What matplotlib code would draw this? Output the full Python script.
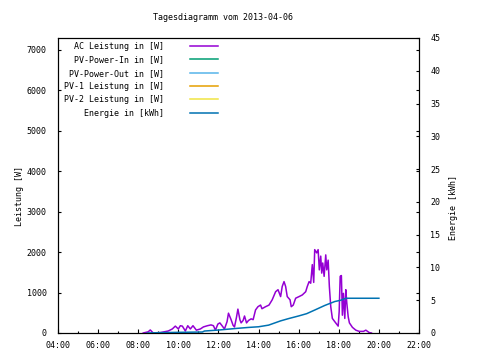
import matplotlib
matplotlib.use("Agg")
import matplotlib.pyplot as plt
from matplotlib.lines import Line2D

# AC power readings (hour of day, watts)
ac_hours = [8.25, 8.5, 8.6, 8.75, 9.1, 9.5, 9.7, 9.85, 10.0, 10.1, 10.2, 10.35,
            10.47, 10.6, 10.73, 10.9, 11.1, 11.25, 11.45, 11.63, 11.75, 11.85,
            11.97, 12.07, 12.18, 12.3, 12.43, 12.5, 12.63, 12.73, 12.8, 12.9,
            12.97, 13.07, 13.13, 13.23, 13.3, 13.4, 13.5, 13.63, 13.73, 13.85,
            13.97, 14.1, 14.17, 14.35, 14.52, 14.68, 14.85, 14.97, 15.1, 15.18,
            15.27, 15.35, 15.43, 15.57, 15.63, 15.73, 15.85, 16.02, 16.18, 16.35,
            16.43, 16.52, 16.6, 16.68, 16.75, 16.8, 16.9, 16.97, 17.03, 17.1,
            17.15, 17.2, 17.27, 17.35, 17.4, 17.47, 17.53, 17.6, 17.68, 17.8,
            17.97, 18.02, 18.07, 18.13, 18.18, 18.23, 18.3, 18.35, 18.4, 18.47,
            18.53, 18.68, 18.85, 19.02, 19.23, 19.35, 19.52, 19.63]
ac_watts = [0, 30, 75, 0, 10, 50, 100, 170, 100, 180, 170, 50,
            180, 100, 180, 70, 100, 150, 180, 200, 180, 70,
            220, 250, 180, 100, 280, 490, 330, 190, 150, 390,
            590, 330, 250, 310, 420, 250, 310, 350, 330, 570,
            650, 690, 600, 650, 690, 820, 1020, 1070, 900, 1150,
            1270, 1150, 900, 820, 650, 690, 860, 900, 940, 1020,
            1150, 1270, 1230, 1690, 1250, 2060, 1980, 2060, 1560, 1900,
            1480, 1730, 1400, 1930, 1560, 1800, 1150, 650, 360, 280,
            170, 530, 1400, 1420, 440, 980, 360, 1070, 740, 400,
            250, 140, 70, 40, 40, 70, 10, 0]

# daily energy (hour of day, kWh)
en_hours = [8.45, 9.0, 10.0, 11.2, 11.3, 12.0, 12.9, 13.5, 14.0, 14.5, 15.1,
            15.5, 16.0, 16.4, 16.8, 17.3, 17.8, 18.1, 18.35, 20.0]
en_kwh = [0.0, 0.05, 0.1, 0.15, 0.3, 0.45, 0.7, 0.85, 0.95, 1.2, 1.85,
          2.2, 2.6, 2.95, 3.5, 4.2, 4.8, 5.0, 5.3, 5.3]

series_labels = ["AC Leistung in [W]", "PV-Power-In in [W]", "PV-Power-Out in [W]",
                 "PV-1 Leistung in [W]", "PV-2 Leistung in [W]", "Energie in [kWh]"]
series_colors = ["#9400d3", "#009e73", "#56b4e9", "#e69f00", "#f0e442", "#0072b2"]

x_ticks = [4, 6, 8, 10, 12, 14, 16, 18, 20, 22]
left_ticks = [0, 1000, 2000, 3000, 4000, 5000, 6000, 7000]
right_ticks = [0, 5, 10, 15, 20, 25, 30, 35, 40, 45]

plt.rcParams["font.family"] = ["DejaVu Sans Mono"]
fs = 6

fig = plt.figure(figsize=(4.8, 3.6), dpi=100)
ax = fig.add_axes([58 / 480, 27 / 360, 361 / 480, 295 / 360])
ax2 = ax.twinx()

ax.plot(ac_hours, ac_watts, color=series_colors[0], lw=1.1)
ax2.plot(en_hours, en_kwh, color=series_colors[5], lw=1.1)

ax.set_xlim(4, 22)
ax.set_ylim(0, 7290)
ax2.set_ylim(0, 45)

ax.set_xticks(x_ticks)
ax.set_xticklabels(["%02d:00" % h for h in x_ticks])
ax.set_xticks(range(5, 22, 2), minor=True)
ax.set_yticks(left_ticks)
ax2.set_yticks(right_ticks)

ax.tick_params(axis="x", which="major", direction="in", length=3, width=0.8,
               labelsize=fs, pad=6)
ax.tick_params(axis="x", which="minor", direction="in", length=1.5, width=0.8)
ax.tick_params(axis="y", direction="in", length=2.5, width=0.8, labelsize=fs,
               right=True, pad=8)
ax2.tick_params(axis="y", direction="in", length=2.5, width=0.8, labelsize=fs, pad=8)

for a in (ax, ax2):
    for s in a.spines.values():
        s.set_linewidth(0.8)

fig.text(223 / 480, 1 - 17 / 360, "Tagesdiagramm vom 2013-04-06", fontsize=fs,
         ha="center", va="center")
fig.text(19 / 480, 1 - 196 / 360, "Leistung [W]", fontsize=fs, rotation=90,
         ha="center", va="center")
fig.text(453 / 480, 1 - 208 / 360, "Energie [kWh]", fontsize=fs, rotation=90,
         ha="center", va="center")

handles = [Line2D([], [], color=c, lw=1.1) for c in series_colors]
ax2.legend(handles, series_labels, loc="upper left", frameon=False,
           markerfirst=False, fontsize=fs, handlelength=3.4, handletextpad=3.1,
           labelspacing=0.52, borderpad=0, borderaxespad=0,
           bbox_to_anchor=(6 / 361, 1 - 4 / 295))

fig.savefig("out.png", dpi=100)
